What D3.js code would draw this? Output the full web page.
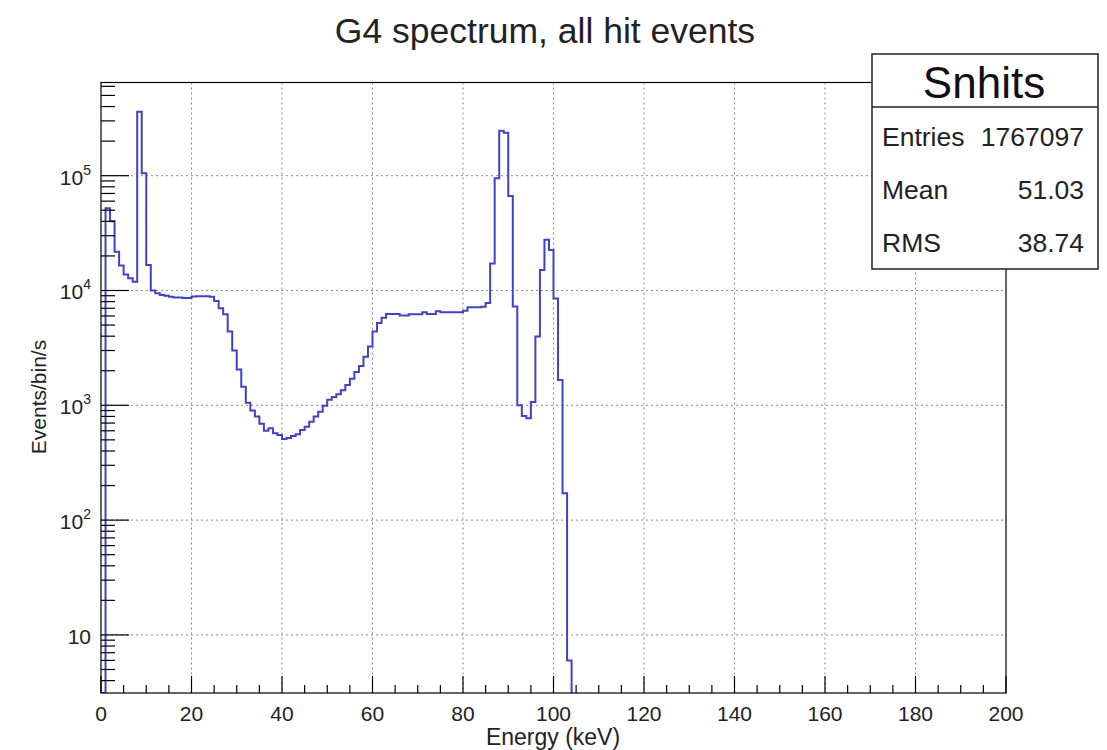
<!DOCTYPE html>
<html>
<head>
<meta charset="utf-8">
<script src="https://cdn.jsdelivr.net/npm/d3@7"></script>
<style>
  html, body { margin: 0; padding: 0; background: #fff; }
  svg { display: block; font-family: "Liberation Sans", Arial, Helvetica, sans-serif; }
</style>
</head>
<body>
<svg id="chart" width="1107" height="750"></svg>
<script>
// ---- data ----
const title = "G4 spectrum, all hit events";
const xTitle = "Energy (keV)";
const yTitle = "Events/bin/s";
const binWidth = 1; // keV
// Events/bin/s for bins starting at 0,1,2,... keV (bins above 103 keV are empty)
const counts = [
  0, 52000, 40000, 21800, 16500, 13800, 12800, 11900, 360000, 105000,
  16700, 10000, 9450, 9150, 9000, 8800, 8700, 8700, 8600, 8600,
  8850, 8900, 8900, 8900, 8800, 8100, 7000, 6200, 4400, 3000,
  2050, 1450, 1050, 900, 800, 690, 600, 630, 570, 550,
  510, 520, 540, 560, 610, 650, 720, 800, 880, 990,
  1120, 1180, 1250, 1350, 1500, 1700, 1950, 2200, 2650, 3250,
  4400, 5200, 5800, 6250, 6250, 6250, 6050, 6050, 6200, 6200,
  6200, 6450, 6250, 6250, 6600, 6450, 6450, 6450, 6450, 6450,
  6650, 7150, 7150, 7150, 7200, 7800, 17200, 95000, 246000, 237000,
  66600, 7250, 1000, 805, 770, 1070, 3970, 15100, 27600, 22500,
  8500, 1660, 171, 6
];
const xTicks = [0, 20, 40, 60, 80, 100, 120, 140, 160, 180, 200];
const yTicks = [10, 100, 1000, 10000, 100000];
const yTickExp = [null, "2", "3", "4", "5"];
const statsName = "Snhits";
const statLabels = ["Entries", "Mean", "RMS"];
const statValues = ["1767097", "51.03", "38.74"];

// ---- layout ----
const svg = d3.select("#chart");
const frame = { left: 101, right: 1006, top: 82.5, bottom: 693 };
const x = d3.scaleLinear().domain([0, 200]).range([frame.left, frame.right]);
const yMin = 3.12, yMax = 648000;
const y = d3.scaleLog().domain([yMin, yMax]).range([frame.bottom, frame.top]);

// grid
const grid = svg.append("g").attr("stroke", "#8a8a8a").attr("stroke-width", 1).attr("stroke-dasharray", "2,3");
xTicks.filter(t => t > 0 && t < 200).forEach(t => {
  grid.append("line").attr("x1", x(t)).attr("x2", x(t)).attr("y1", frame.top).attr("y2", frame.bottom);
});
yTicks.forEach(t => {
  grid.append("line").attr("x1", frame.left).attr("x2", frame.right).attr("y1", y(t)).attr("y2", y(t));
});

// histogram
svg.append("clipPath").attr("id", "clip").append("rect")
  .attr("x", frame.left).attr("y", frame.top)
  .attr("width", frame.right - frame.left).attr("height", frame.bottom - frame.top);
const pts = counts.map((v, i) => [i * binWidth, Math.max(v, yMin)]);
pts.push([counts.length * binWidth, yMin]);
const line = d3.line().x(d => x(d[0])).y(d => y(d[1])).curve(d3.curveStepAfter);
svg.append("path").attr("d", line(pts)).attr("clip-path", "url(#clip)")
  .attr("fill", "none").attr("stroke", "#4242c4").attr("stroke-width", 2);

// axes: x ticks
const axes = svg.append("g").attr("stroke", "#000").attr("stroke-width", 1.2);
const xMinor = d3.range(0, 201, 5).filter(t => t % 20 !== 0);
xTicks.forEach(t => axes.append("line").attr("x1", x(t)).attr("x2", x(t)).attr("y1", frame.bottom).attr("y2", frame.bottom - 17));
xMinor.forEach(t => axes.append("line").attr("x1", x(t)).attr("x2", x(t)).attr("y1", frame.bottom).attr("y2", frame.bottom - 8));
// y ticks
const yMinor = [];
[1, 10, 100, 1000, 10000, 100000].forEach(d => { for (let k = 2; k <= 9; k++) { const v = k * d; if (v > yMin && v < yMax) yMinor.push(v); } });
yTicks.forEach(t => axes.append("line").attr("x1", frame.left).attr("x2", frame.left + 28).attr("y1", y(t)).attr("y2", y(t)));
yMinor.forEach(t => axes.append("line").attr("x1", frame.left).attr("x2", frame.left + 14).attr("y1", y(t)).attr("y2", y(t)));
// frame
svg.append("rect").attr("x", frame.left).attr("y", frame.top)
  .attr("width", frame.right - frame.left).attr("height", frame.bottom - frame.top)
  .attr("fill", "none").attr("stroke", "#000").attr("stroke-width", 1.2);

// tick labels
const tl = svg.append("g").attr("fill", "#222").attr("font-size", 21);
xTicks.forEach(t => tl.append("text").attr("x", x(t)).attr("y", 721).attr("text-anchor", "middle").text(t));
yTicks.forEach((t, i) => {
  const txt = tl.append("text").attr("x", 91).attr("y", y(t) + 9).attr("text-anchor", "end");
  txt.append("tspan").text("10");
  if (yTickExp[i]) txt.append("tspan").attr("font-size", 14).attr("dy", -10).text(yTickExp[i]);
});

// titles
svg.append("text").attr("x", 545).attr("y", 43).attr("text-anchor", "middle")
  .attr("font-size", 35.5).attr("fill", "#222").text(title);
svg.append("text").attr("x", 553).attr("y", 745).attr("text-anchor", "middle")
  .attr("font-size", 23).attr("fill", "#222").text(xTitle);
svg.append("text").attr("transform", "translate(46,397) rotate(-90)").attr("text-anchor", "middle")
  .attr("font-size", 21).attr("fill", "#222").text(yTitle);

// stats box
const box = { left: 872, right: 1098, top: 54, bottom: 269, divider: 107 };
svg.append("rect").attr("x", box.left).attr("y", box.top)
  .attr("width", box.right - box.left).attr("height", box.bottom - box.top)
  .attr("fill", "#fff").attr("stroke", "#222").attr("stroke-width", 1.5);
svg.append("line").attr("x1", box.left).attr("x2", box.right).attr("y1", box.divider).attr("y2", box.divider)
  .attr("stroke", "#222").attr("stroke-width", 1.5);
svg.append("text").attr("x", 984).attr("y", 98).attr("text-anchor", "middle")
  .attr("font-size", 44).attr("fill", "#111").text(statsName);
const rowY = [146, 199, 252];
statLabels.forEach((lab, i) => {
  svg.append("text").attr("x", 882).attr("y", rowY[i]).attr("font-size", 26.5).attr("fill", "#222").text(lab);
  svg.append("text").attr("x", 1084).attr("y", rowY[i]).attr("text-anchor", "end").attr("font-size", 26.5).attr("fill", "#222").text(statValues[i]);
});
</script>
</body>
</html>
